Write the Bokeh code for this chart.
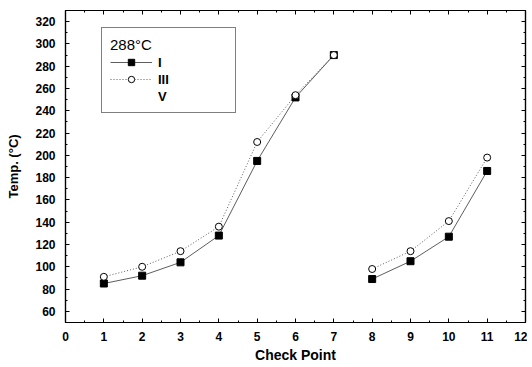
import math
from bokeh.plotting import figure
from bokeh.models import (LinearAxis, Legend, LegendItem, FixedTicker, Range1d)
from bokeh.embed import file_html
from bokeh.resources import INLINE

# ---- data ----
check_points = [1, 2, 3, 4, 5, 6, 7, 8, 9, 10, 11]
temp_I = [85, 92, 104, 128, 195, 252, 290, 89, 105, 127, 186]
temp_III = [91, 100, 114, 136, 212, 254, 290, 98, 114, 141, 198]
segment_break = 7  # the lines are interrupted between point 7 and point 8
legend_title = "288°C"
series_names = ["I", "III", "V"]
x_ticks = list(range(0, 13))
y_ticks = list(range(60, 321, 20))

FONT = "Liberation Sans"


def broken(xs, ys, k):
    return xs[:k] + [math.nan] + xs[k:], ys[:k] + [math.nan] + ys[k:]


p = figure(frame_width=460, frame_height=312, output_backend="svg",
           toolbar_location=None,
           x_range=Range1d(0, 12), y_range=Range1d(50, 330),
           min_border_left=65, min_border_right=2, min_border_top=10,
           min_border_bottom=38)
p.xgrid.visible = False
p.ygrid.visible = False
p.outline_line_color = "black"
p.outline_line_width = 1.2
p.background_fill_color = "white"
p.border_fill_color = "white"

xI, yI = broken(check_points, temp_I, segment_break)
xIII, yIII = broken(check_points, temp_III, segment_break)

lI = p.line(xI, yI, line_color="#333333", line_width=0.8)
lIII = p.line(xIII, yIII, line_color="#333333", line_width=0.8, line_dash="1 2")
mI = p.scatter(check_points, temp_I, marker="square", size=7, fill_color="black",
               line_color="black")
mIII = p.scatter(check_points, temp_III, marker="circle", size=7, fill_color="white",
                 line_color="black", line_width=1)
dummy = p.line([math.nan], [math.nan], line_alpha=0)


def style_axis(ax, show_labels):
    ax.axis_line_color = "black"
    ax.axis_line_width = 1.2
    ax.major_tick_in = 4
    ax.major_tick_out = 0
    ax.minor_tick_in = 2
    ax.minor_tick_out = 0
    ax.major_tick_line_color = "black"
    ax.minor_tick_line_color = "black"
    ax.major_label_text_font = FONT
    ax.major_label_text_font_style = "bold"
    ax.major_label_text_font_size = "12px" if show_labels else "0px"
    ax.major_label_text_color = "black"
    ax.axis_label_text_font = FONT
    ax.axis_label_text_font_style = "bold"
    ax.axis_label_text_font_size = "14px"
    ax.axis_label_text_color = "black"


xt = FixedTicker(ticks=x_ticks, minor_ticks=[i * 0.5 for i in range(0, 25)])
yt = FixedTicker(ticks=y_ticks, minor_ticks=list(range(50, 331, 10)))

xa = p.xaxis[0]
xa.ticker = xt
xa.axis_label = "Check Point"
xa.major_label_standoff = 9
xa.axis_label_standoff = 3
style_axis(xa, True)

ya = p.yaxis[0]
ya.ticker = yt
ya.axis_label = "Temp. (°C)"
ya.major_label_standoff = 10
ya.axis_label_standoff = 11
style_axis(ya, True)
ya.axis_label_text_font_size = "13px"

top = LinearAxis(ticker=xt)
style_axis(top, False)
top.major_label_text_color = None
top.major_label_standoff = 0
p.add_layout(top, "above")
right = LinearAxis(ticker=yt)
style_axis(right, False)
right.major_label_text_color = None
right.major_label_standoff = 0
p.add_layout(right, "right")

legend = Legend(items=[
    LegendItem(label=series_names[0], renderers=[lI, mI]),
    LegendItem(label=series_names[1], renderers=[lIII, mIII]),
    LegendItem(label=series_names[2], renderers=[dummy]),
], location=(36, 209), title=legend_title)
legend.title_text_font = FONT
legend.title_text_font_size = "15px"
legend.title_text_font_style = "normal"
legend.title_text_color = "black"
legend.title_standoff = 1
legend.label_text_font = FONT
legend.label_text_font_size = "13px"
legend.label_text_font_style = "bold"
legend.label_text_color = "black"
legend.glyph_width = 42
legend.glyph_height = 16
legend.label_standoff = 6
legend.spacing = 1
legend.padding = 8
legend.margin = 0
legend.border_line_color = "black"
legend.border_line_width = 1
legend.background_fill_alpha = 1
legend.label_width = 69
p.add_layout(legend, "center")

open("out.html", "w").write(file_html(p, INLINE))
